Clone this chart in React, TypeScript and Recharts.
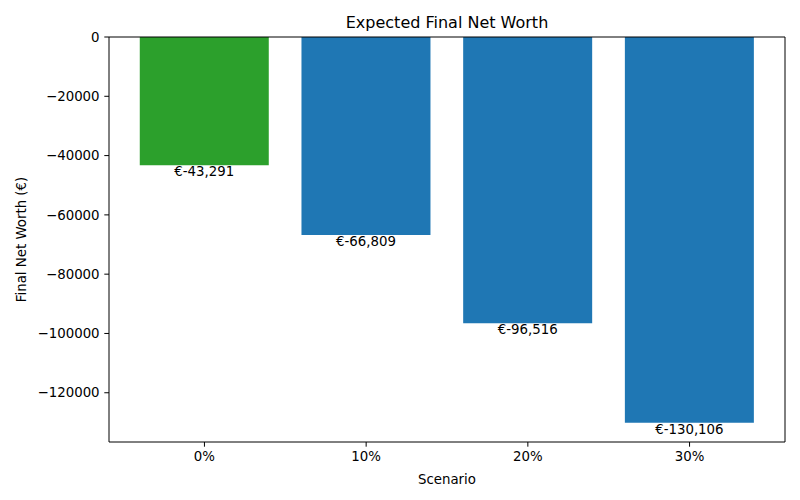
import React from 'react';
import { BarChart, Bar, XAxis, YAxis, Cell, LabelList, Label } from 'recharts';

const scenarios = ['0%', '10%', '20%', '30%'];
const netWorth = [-43291, -66809, -96516, -130106];
const barColors = ['#2ca02c', '#1f77b4', '#1f77b4', '#1f77b4'];
const yTicks = [0, -20000, -40000, -60000, -80000, -100000, -120000];

const data = scenarios.map((s, i) => ({ scenario: s, value: netWorth[i] }));

const FONT = 'DejaVu Sans, sans-serif';

const fmtTick = (v: number) => (v < 0 ? '\u2212' + Math.abs(v) : String(v));
const fmtEuro = (v: number) => '€' + (v < 0 ? '-' : '') + Math.abs(v).toLocaleString('en-US');

const BarValue = (props: any) => {
  const { x, y, width, height, value } = props;
  const bottom = Math.max(y, y + height);
  return (
    <text x={x + width / 2} y={bottom + 11} textAnchor="middle" fontSize={13.33} fill="#000" fontFamily={FONT}>
      {fmtEuro(value)}
    </text>
  );
};

const YLabel = (props: any) => {
  const { viewBox } = props;
  const cy = viewBox.y + viewBox.height / 2;
  return (
    <text
      x={21}
      y={cy}
      transform={`rotate(-90, 21, ${cy})`}
      textAnchor="middle"
      dominantBaseline="central"
      fontSize={13.33}
      fontFamily={FONT}
      fill="#000"
    >
      Final Net Worth (€)
    </text>
  );
};

export default function App() {
  const tickStyle = { fill: '#000', fontSize: 13.33, fontFamily: FONT };
  return (
    <div style={{ position: 'absolute', left: 0, top: 0, width: 800, height: 500, background: '#fff', fontFamily: FONT }}>
      <div
        style={{
          position: 'absolute',
          top: 13,
          left: 109,
          width: 676,
          textAlign: 'center',
          fontSize: 16,
          lineHeight: '20px',
          color: '#000',
        }}
      >
        Expected Final Net Worth
      </div>
      <BarChart
        width={800}
        height={500}
        data={data}
        margin={{ top: 36, right: 14, bottom: 0, left: 0 }}
        barCategoryGap="10%"
      >
        <XAxis
          dataKey="scenario"
          height={58}
          padding={{ left: 14.6, right: 14.6 }}
          stroke="#000"
          tick={tickStyle}
          tickSize={4.7}
          tickMargin={5}
        >
          <Label value="Scenario" position="insideBottom" offset={16} style={{ fill: '#000', fontSize: 13.33, fontFamily: FONT }} />
        </XAxis>
        <XAxis
          xAxisId="top"
          dataKey="scenario"
          orientation="top"
          height={1}
          padding={{ left: 14.6, right: 14.6 }}
          stroke="#000"
          tick={false}
          tickLine={false}
        />
        <YAxis
          width={109}
          domain={[-136611, 0]}
          ticks={yTicks}
          allowDataOverflow
          stroke="#000"
          tick={tickStyle}
          tickSize={4.7}
          tickMargin={4.7}
          tickFormatter={fmtTick}
          label={<YLabel />}
        />
        <YAxis
          yAxisId="right"
          orientation="right"
          width={1}
          domain={[-136611, 0]}
          allowDataOverflow
          stroke="#000"
          tick={false}
          tickLine={false}
        />
        <Bar dataKey="value" isAnimationActive={false}>
          {data.map((d, i) => (
            <Cell key={d.scenario} fill={barColors[i]} />
          ))}
          <LabelList dataKey="value" content={<BarValue />} />
        </Bar>
        <Bar dataKey="value" xAxisId="top" yAxisId="right" fill="none" isAnimationActive={false} />
      </BarChart>
    </div>
  );
}
